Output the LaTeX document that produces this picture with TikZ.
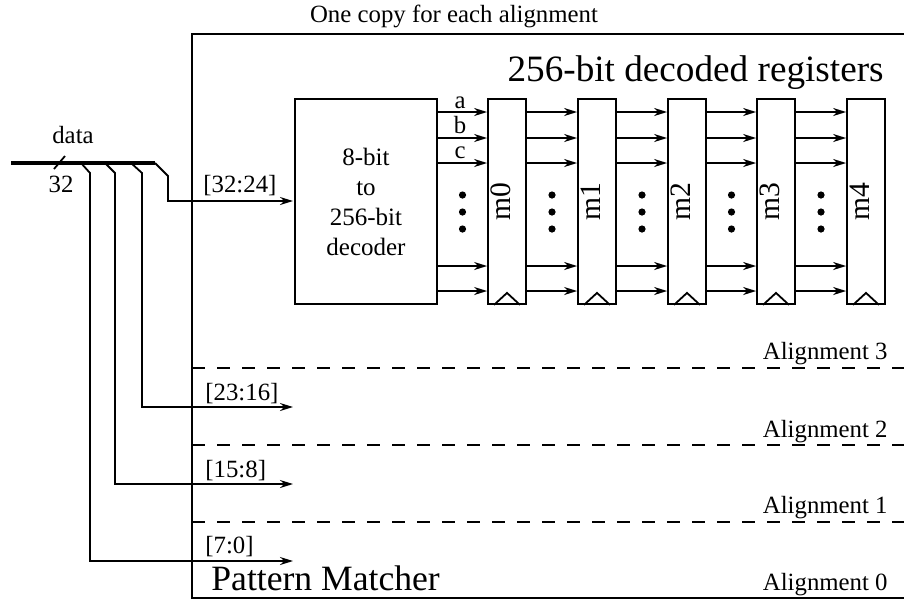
\documentclass[tikz,border=0pt]{standalone}
\usepackage{fontspec}
\setmainfont{Liberation Serif}
\usetikzlibrary{arrows.meta,positioning}
\tikzstyle{decbox} = [rectangle, draw, line width=0.9pt, align=center,
                      minimum width=71pt, minimum height=102.5pt, inner sep=0pt,
                      font=\fontsize{12.5}{15}\selectfont]
\tikzstyle{reg} = [rectangle, draw, line width=0.9pt, minimum width=19pt,
                   minimum height=102.5pt, inner sep=0pt]
\tikzstyle{mlbl} = [rotate=90, inner sep=0pt, font=\fontsize{14.8}{16}\selectfont]
\tikzstyle{lbl} = [inner sep=0pt, font=\fontsize{12.4}{14}\selectfont]
\tikzstyle{big} = [inner sep=0pt, font=\fontsize{17.8}{20}\selectfont]
\tikzstyle{arrow} = [-{Stealth[length=6.5pt,width=4pt]}, line width=0.9pt]
\tikzstyle{wire} = [line width=0.9pt]
\tikzstyle{bus} = [line width=2.3pt]
\tikzstyle{sep} = [line width=0.7pt, dash pattern=on 6.5pt off 6pt]

\begin{document}
\begin{tikzpicture}[x=0.5pt, y=-0.5pt]
    \useasboundingbox (0,0) rectangle (904,601);

    % frame, open at the right
    \draw [wire] (906,34) -- (192,34) -- (192,598) -- (906,598);
    \node [lbl, anchor=base] (copies) at (454,22) {One copy for each alignment};
    \node [big, font=\fontsize{18.6}{20}\selectfont, anchor=base east] (regtitle) at (884,81) {256-bit decoded registers};
    \node [big, anchor=base west] (matcher) at (211,590) {Pattern Matcher};

    % alignment separators
    \draw [sep] (192,368) -- (904,368);
    \draw [sep] (192,445) -- (904,445);
    \draw [sep] (192,522) -- (904,522);
    \node [lbl, anchor=base east] (al3) at (888,359) {Alignment 3};
    \node [lbl, anchor=base east] (al2) at (888,437) {Alignment 2};
    \node [lbl, anchor=base east] (al1) at (888,513) {Alignment 1};
    \node [lbl, anchor=base east] (al0) at (888,590) {Alignment 0};

    % decoder and registers
    \node [decbox] (dec) at (366,201.5) {8-bit\\to\\256-bit\\decoder};
    \foreach \i/\x in {0/507,1/597,2/687,3/776,4/866} {
      \node [reg, label={[mlbl, yshift=3pt]center:m\i}] (m\i) at (\x,201.5) {};
      \draw [wire] ([xshift=-6.5pt]m\i.south) -- ++(6.5pt,6pt) -- ([xshift=6.5pt]m\i.south);
    }
    \foreach \y in {112,138,163,266,291} {
      \draw [arrow] (dec.east |- 0,\y) -- (m0.west |- 0,\y);
      \foreach \a/\b in {m0/m1,m1/m2,m2/m3,m3/m4}
        \draw [arrow] (\a.east |- 0,\y) -- (\b.west |- 0,\y);
    }
    \foreach \x in {462.5,552,642,731.5,821}
      \foreach \y in {195,212,229}
        \fill (\x,\y) circle [radius=1.8pt];
    \node [lbl, anchor=base] (sa) at (460,108) {a};
    \node [lbl, anchor=base] (sb) at (460,133) {b};
    \node [lbl, anchor=base] (sc) at (460,158) {c};

    % data bus and taps
    \coordinate (busL) at (11,163);
    \coordinate (tap0) at (81,163);
    \coordinate (tap1) at (105,163);
    \coordinate (tap2) at (131,163);
    \coordinate (tap3) at (155,163);
    \coordinate (in3) at (293,201);
    \coordinate (in2) at (293,407);
    \coordinate (in1) at (293,484);
    \coordinate (in0) at (293,561);
    \draw [bus] (busL) -- (tap3);
    \draw [wire] (54,169) -- (65,156);
    \node [lbl, anchor=base] (data) at (73,143) {data};
    \node [lbl, anchor=base] (width) at (61,192) {32};

    \draw [arrow] (tap3) -- ++(13,13) |- (in3);
    \draw [arrow] (tap2) -- ++(11,10) |- (in2);
    \draw [arrow] (tap1) -- ++(10,10) |- (in1);
    \draw [arrow] (tap0) -- ++(9,10) |- (in0);
    \node [lbl, anchor=base west] (b3) at (203,192) {[32:24]};
    \node [lbl, anchor=base west] (b2) at (205,400) {[23:16]};
    \node [lbl, anchor=base west] (b1) at (205,477) {[15:8]};
    \node [lbl, anchor=base west] (b0) at (205,553) {[7:0]};
\end{tikzpicture}
\end{document}
